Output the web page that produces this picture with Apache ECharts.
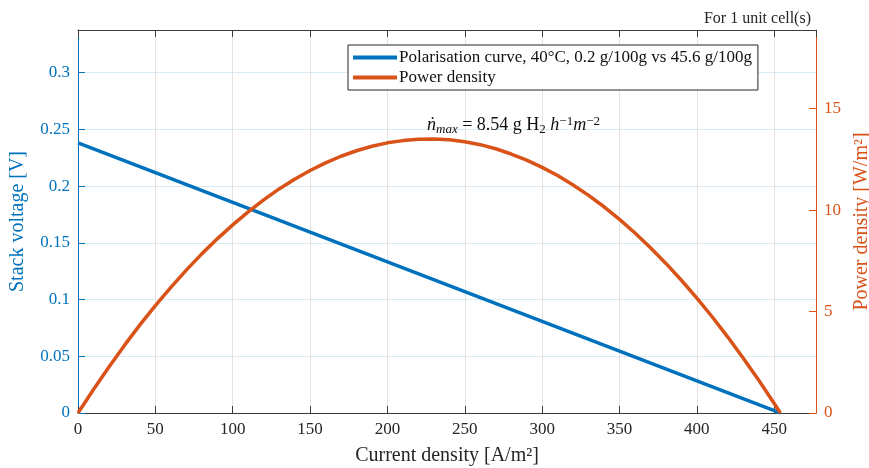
<!DOCTYPE html>
<html><head><meta charset="utf-8">
<script src="https://cdn.jsdelivr.net/npm/echarts@6/dist/echarts.min.js"></script>
<style>html,body{margin:0;padding:0;background:#fff}#c{width:869px;height:468px}</style>
</head><body><div id="c"></div>
<script>
// Data
const currentV = [0, 50, 100, 150, 200, 250, 300, 350, 400, 450, 454];
const voltage  = [0.238, 0.2118, 0.1856, 0.1594, 0.1332, 0.1069, 0.0807, 0.0545, 0.0283, 0.0021, 0];
const currentP = [0, 10, 20, 30, 40, 50, 60, 70, 80, 90, 100, 110, 120, 130, 140, 150, 160, 170, 180, 190, 200, 210, 220, 230, 240, 250, 260, 270, 280, 290, 300, 310, 320, 330, 340, 350, 360, 370, 380, 390, 400, 410, 420, 430, 440, 450, 454];
const power    = [0, 1.16, 2.27, 3.33, 4.34, 5.29, 6.19, 7.04, 7.84, 8.58, 9.27, 9.91, 10.50, 11.04, 11.52, 11.95, 12.32, 12.65, 12.92, 13.14, 13.31, 13.42, 13.49, 13.50, 13.46, 13.36, 13.22, 13.02, 12.76, 12.46, 12.10, 11.70, 11.23, 10.72, 10.16, 9.54, 8.87, 8.14, 7.37, 6.54, 5.66, 4.73, 3.74, 2.70, 1.61, 0.47, 0];
const seriesNames = ['Polarisation curve, 40°C, 0.2 g/100g vs 45.6 g/100g', 'Power density'];
const xTicks = [0, 50, 100, 150, 200, 250, 300, 350, 400, 450];
const yLeftTicks = [0, 0.05, 0.1, 0.15, 0.2, 0.25, 0.3];
const yRightTicks = [0, 5, 10, 15];

const FONT = 'Liberation Serif';
const BLUE = '#0072BD', ORANGE = '#D95319', AX = '#3a3a3a';
const chart = echarts.init(document.getElementById('c'), null, {renderer: 'canvas'});
const fmtIf = (ticks) => (v) => ticks.some(t => Math.abs(t - v) < 1e-9) ? String(+v.toFixed(4)) : '';
chart.setOption({
  animation: false,
  backgroundColor: '#fff',
  textStyle: {fontFamily: FONT},
  title: {
    text: 'For 1 unit cell(s)', right: 869 - 816, top: 6,
    textStyle: {fontFamily: FONT, fontSize: 16, fontWeight: 'normal', color: '#262626'}
  },
  grid: {left: 78, right: 53, top: 30, bottom: 55, containLabel: false, outerBoundsMode: 'none'},
  legend: {
    orient: 'vertical', left: 348, top: 45, padding: [4, 6, 4, 5], itemGap: 3,
    backgroundColor: '#fff', borderColor: '#262626', borderWidth: 1, borderRadius: 0,
    icon: 'rect', itemWidth: 44, itemHeight: 4,
    textStyle: {fontFamily: FONT, fontSize: 17, color: '#111', padding: [0, 0, 0, -3]},
    data: seriesNames
  },
  xAxis: [{
    type: 'value', min: 0, max: 477, interval: 50,
    name: 'Current density [A/m²]', nameLocation: 'middle', nameGap: 33,
    nameTextStyle: {fontFamily: FONT, fontSize: 20, color: '#262626'},
    axisLine: {onZero: false, lineStyle: {color: AX, width: 1}},
    axisTick: {inside: true, length: 7, lineStyle: {color: AX}},
    axisLabel: {fontFamily: FONT, fontSize: 17, color: '#262626', margin: 8, showMaxLabel: false, formatter: fmtIf(xTicks)},
    splitLine: {show: true, lineStyle: {color: '#e3e3e3', width: 1}}
  }, {
    type: 'value', position: 'top', min: 0, max: 477, interval: 50,
    axisLine: {show: true, onZero: false, lineStyle: {color: AX, width: 1}},
    axisTick: {inside: true, length: 7, lineStyle: {color: AX}},
    axisLabel: {show: false}, splitLine: {show: false}
  }],
  yAxis: [{
    type: 'value', position: 'left', min: 0, max: 0.3375, interval: 0.05,
    name: 'Stack voltage [V]', nameLocation: 'middle', nameGap: 50, nameRotate: 90,
    nameTextStyle: {fontFamily: FONT, fontSize: 20, color: BLUE},
    axisLine: {show: true, onZero: false, lineStyle: {color: BLUE, width: 1}},
    axisTick: {show: true, inside: true, length: 7, lineStyle: {color: BLUE}},
    axisLabel: {fontFamily: FONT, fontSize: 17, color: BLUE, margin: 8, showMaxLabel: false, formatter: fmtIf(yLeftTicks)},
    splitLine: {show: true, lineStyle: {color: '#d9eaf5', width: 1}}
  }, {
    type: 'value', position: 'right', min: 0, max: 18.87, interval: 5,
    name: 'Power density [W/m²]', nameLocation: 'middle', nameGap: 29, nameRotate: 90,
    nameTextStyle: {fontFamily: FONT, fontSize: 20, color: ORANGE},
    axisLine: {show: true, onZero: false, lineStyle: {color: ORANGE, width: 1}},
    axisTick: {show: true, inside: true, length: 7, lineStyle: {color: ORANGE}},
    axisLabel: {fontFamily: FONT, fontSize: 17, color: ORANGE, margin: 8, showMaxLabel: false, formatter: fmtIf(yRightTicks)},
    splitLine: {show: false}
  }],
  series: [{
    name: seriesNames[0], type: 'line', xAxisIndex: 0, yAxisIndex: 0,
    data: currentV.map((x, i) => [x, voltage[i]]),
    showSymbol: false, lineStyle: {color: BLUE, width: 3.5}, itemStyle: {color: BLUE}, z: 3
  }, {
    name: seriesNames[1], type: 'line', xAxisIndex: 0, yAxisIndex: 1,
    data: currentP.map((x, i) => [x, power[i]]),
    showSymbol: false, lineStyle: {color: ORANGE, width: 3.5}, itemStyle: {color: ORANGE}, z: 4
  }],
  graphic: [{
    type: 'text', left: 427, top: 115, z: 10,
    style: {
      text: '{n|ṅ}{sub|max}{r| = 8.54 g H}{sub2|2}{r| }{i|h}{sup|−1}{i|m}{sup|−2}',
      rich: {
        n: {fontFamily: FONT, fontStyle: 'italic', fontSize: 18, lineHeight: 21, fill: '#111', verticalAlign: 'middle'},
        i: {fontFamily: FONT, fontStyle: 'italic', fontSize: 18, lineHeight: 21, fill: '#111', verticalAlign: 'middle'},
        r: {fontFamily: FONT, fontSize: 18, lineHeight: 21, fill: '#111', verticalAlign: 'middle'},
        sub: {fontFamily: FONT, fontStyle: 'italic', fontSize: 13, lineHeight: 13, fill: '#111', verticalAlign: 'bottom'},
        sub2: {fontFamily: FONT, fontSize: 13, lineHeight: 13, fill: '#111', verticalAlign: 'bottom'},
        sup: {fontFamily: FONT, fontSize: 13, lineHeight: 13, fill: '#111', verticalAlign: 'top'}
      }
    }
  }]
});
</script></body></html>
